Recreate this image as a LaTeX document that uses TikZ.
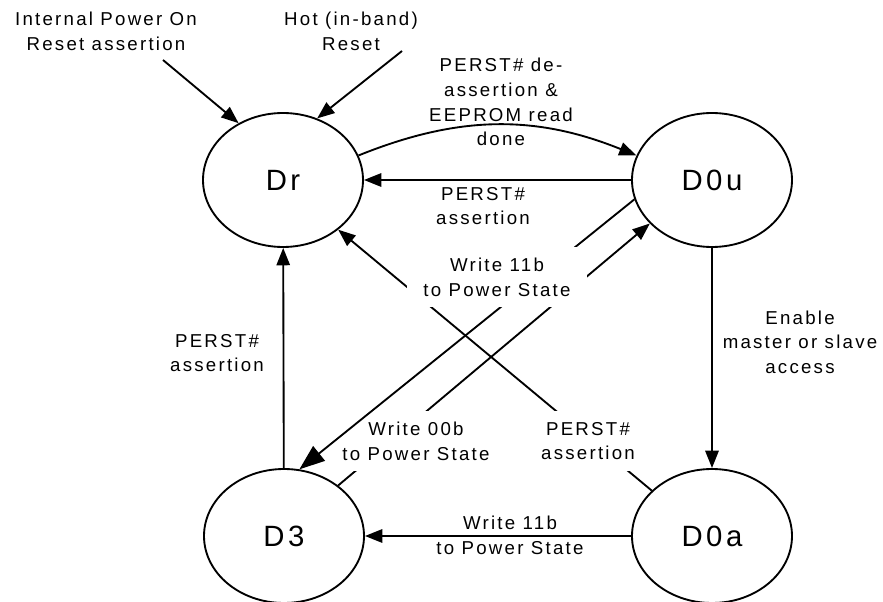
\documentclass[tikz,border=0pt]{standalone}
\usepackage{fontspec}
\setmainfont{Liberation Sans}[LetterSpace=12]
\usetikzlibrary{shapes.geometric,arrows.meta}

\begin{document}
\begin{tikzpicture}[x=0.75pt, y=-0.75pt,
    state/.style={ellipse, draw, line width=1.4pt, minimum width=120pt, minimum height=100.5pt, font=\fontsize{22}{26}\selectfont},
    lbl/.style={align=center, inner sep=0pt, font=\fontsize{14}{18.5}\selectfont},
    gap/.style={lbl, fill=white, inner xsep=12pt, inner ysep=8pt},
    arr/.style={-{Triangle[length=13pt,width=10pt]}, line width=1.4pt},
    bigarr/.style={-{Triangle[length=19pt,width=14pt]}, line width=1.4pt}]
        \useasboundingbox (0,0) rectangle (883,602);

        \node (Dr)      at (283,180)  [state] {Dr};
        \node (D0u)     at (712,180)  [state] {D0u};
        \node (D3)      at (284,536)  [state] {D3};
        \node (D0a)     at (712,536)  [state] {D0a};

        % reset inputs
        \node (ipor)    at (106,31)   [lbl] {Internal Power On\\Reset assertion};
        \node (hot)     at (351,31)   [lbl] {Hot (in-band)\\Reset};
        \coordinate (iporFrom) at (163,60);
        \coordinate (hotFrom)  at (402,51);
        \draw[arr] (iporFrom) -- (Dr.128);
        \draw[arr] (hotFrom)  -- (Dr.61);

        \draw[arr] (Dr.18) to[bend left=22] (D0u.162);
        \node (deassert)   at (501,102) [lbl] {PERST\# de-\\assertion \&\\EEPROM read\\done};
        \draw[arr] (D0u) -- (Dr);
        \node (assertTop)  at (483,206) [lbl] {PERST\#\\assertion};

        \draw[arr] (D3) -- (Dr);
        \node (assertLeft) at (217,353) [lbl] {PERST\#\\assertion};
        \draw[arr] (D0u) -- (D0a);
        \node (enable)     at (800,342) [lbl] {Enable\\master or slave\\access};
        \draw[arr] (D0a) -- (D3);
        \node (writeBot)   at (510,535) [lbl] {Write 11b\\to Power State};

        % crossing lines, labels cut the lines under them
        \draw[arr] (D3.43) -- (D0u.215);
        \node (write00)    at (416,441) [gap] {Write 00b\\to Power State};
        \draw[arr] (D0a.143) -- (Dr.318);
        \node (assertLow)  at (588,441) [gap] {PERST\#\\assertion};
        \draw[bigarr] (D0u.194) -- (D3.77);
        \node (write11)    at (497,277) [gap] {Write 11b\\to Power State};
    \end{tikzpicture}
\end{document}
